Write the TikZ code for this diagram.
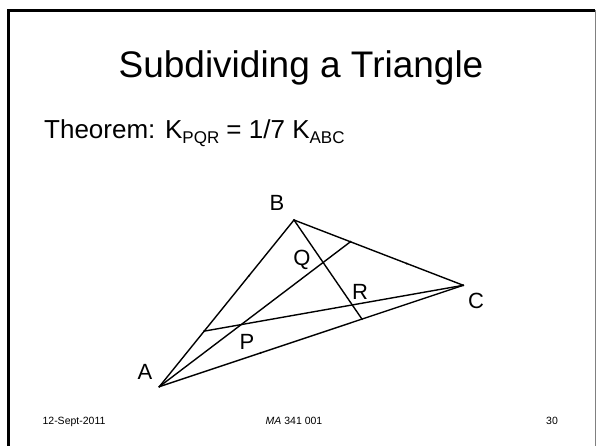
\documentclass[tikz,border=0pt]{standalone}
\usepackage{fontspec}
\setmainfont{Liberation Sans}
\usetikzlibrary{calc}
\definecolor{framegray}{HTML}{808080}

\begin{document}
\begin{tikzpicture}[
    x=1pt, y=-1pt,
    every node/.style={inner sep=0pt},
    titletext/.style={font=\fontsize{37}{40}\selectfont, anchor=base},
    bodytext/.style={font=\fontsize{26}{30}\selectfont, anchor=base west},
    foottext/.style={font=\fontsize{10.5}{12}\selectfont, anchor=base},
    ptlabel/.style={font=\fontsize{22}{24}\selectfont},
    edge/.style={line width=1.4pt, line join=round},
    tick/.style={fill=black},
]
\newcommand{\lowsub}[1]{\raisebox{-0.3ex}{\fontsize{17}{17}\selectfont #1}}

\useasboundingbox (0,0) rectangle (596,446);

% === Slide frame ===
\draw[line width=3pt] (8.5,446) -- (8.5,10.5) -- (595,10.5);
\draw[framegray, line width=0.8pt] (595,10.5) -- (595,446);

% === Title and statement ===
\node[titletext] (title) at (301,78) {Subdividing a Triangle};
\node[bodytext] (thm) at (44,139) {Theorem: K\lowsub{PQR} = 1/7 K\lowsub{ABC}};

% === Triangle ===
\coordinate (A) at (159.3,386.7);
\coordinate (B) at (294,220);
\coordinate (C) at (463.3,285.3);

\coordinate (D) at ($(B)!1/3!(C)$);
\coordinate (E) at ($(C)!1/3!(A)$);
\coordinate (F) at ($(A)!1/3!(B)$);
\coordinate (D2) at ($(B)!2/3!(C)$);
\coordinate (E2) at ($(C)!2/3!(A)$);
\coordinate (F2) at ($(A)!2/3!(B)$);

\draw[edge] (A) -- (B) -- (C) -- cycle;
\draw[edge] (A) -- (D);
\draw[edge] (B) -- (E);
\draw[edge] (C) -- (F);

\foreach \p in {A,B,C,D,E,F,D2,E2,F2}
    \fill[tick] (\p) circle (1.1pt);

% === Labels ===
\node[ptlabel] (lA) at (145,372) {A};
\node[ptlabel] (lB) at (277,203) {B};
\node[ptlabel] (lC) at (476,301) {C};
\node[ptlabel] (lP) at (247,342) {P};
\node[ptlabel] (lQ) at (302,260) {Q};
\node[ptlabel] (lR) at (360,292) {R};

% === Footer ===
\node[foottext] (date) at (74,424) {12-Sept-2011};
\node[foottext] (course) at (294,424) {{\itshape MA} 341 001};
\node[foottext] (page) at (552,424) {30};

\end{tikzpicture}
\end{document}
